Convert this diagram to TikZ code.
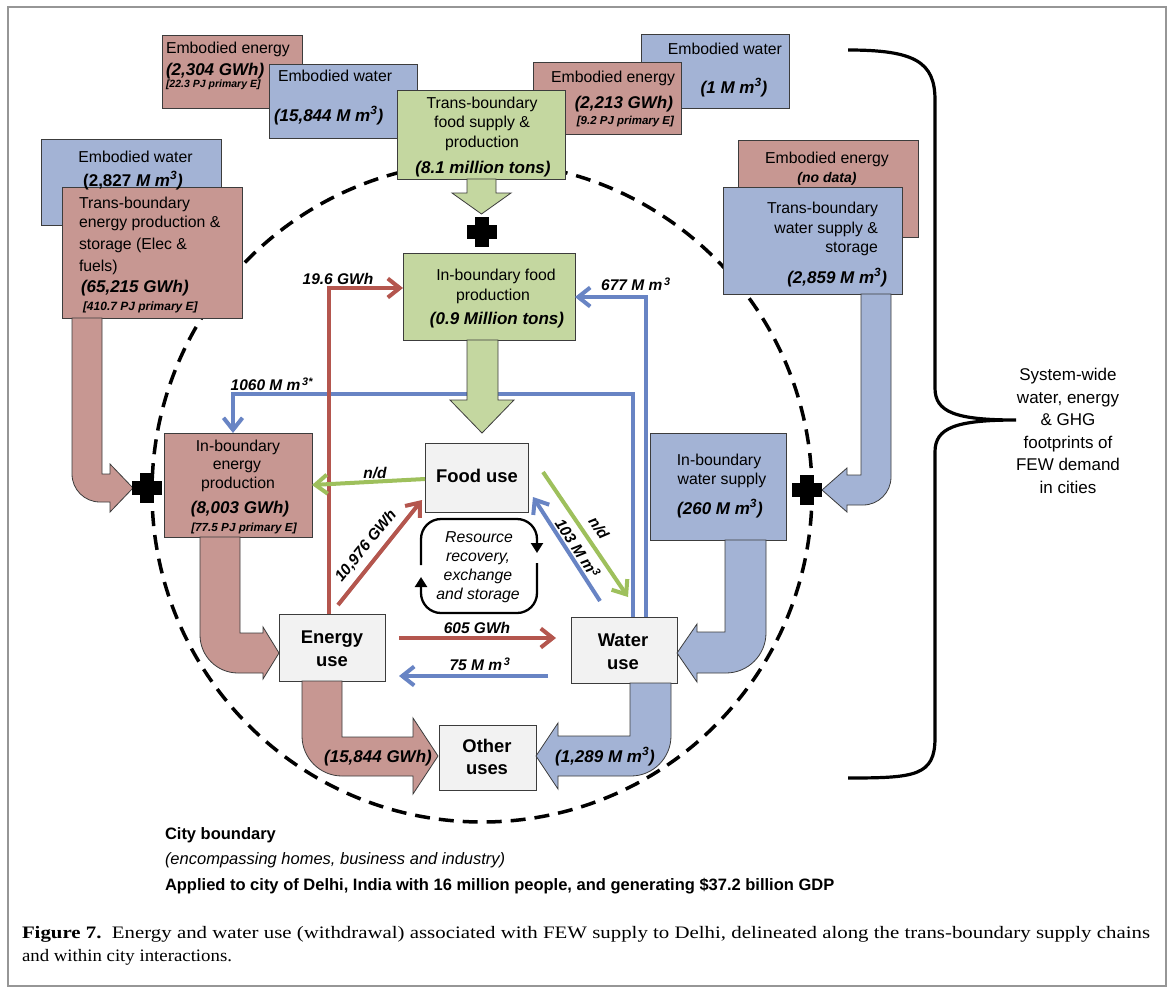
\documentclass[tikz,border=0pt]{standalone}
\usepackage{fontspec}
\setmainfont{Liberation Sans}
\newfontfamily\capfont{Liberation Serif}
\usepackage{graphicx}
\usetikzlibrary{arrows.meta}
\definecolor{boxred}{RGB}{199,151,146}
\definecolor{boxblue}{RGB}{163,179,213}
\definecolor{boxgreen}{RGB}{196,215,160}
\definecolor{boxgray}{RGB}{242,242,242}
\definecolor{edgecol}{RGB}{60,60,60}
\definecolor{lred}{RGB}{180,86,78}
\definecolor{lblue}{RGB}{104,132,196}
\definecolor{lgreen}{RGB}{158,192,92}
\definecolor{framecol}{RGB}{150,150,150}
\newcommand\ftreg{\fontsize{15.8}{19}\selectfont}
\newcommand\ftval{\fontsize{17}{20}\selectfont\bfseries\itshape}
\newcommand\ftsmall[1]{\fontsize{#1}{13}\selectfont\bfseries\itshape}
\newcommand\ftuse{\fontsize{18.4}{22}\selectfont\bfseries}
\newcommand\ftlab{\fontsize{15.5}{18}\selectfont\bfseries\itshape}
\newcommand\cub{\textsuperscript{3}}
\tikzset{
  bx/.style={draw=edgecol, line width=0.9pt, inner sep=0pt, outer sep=0pt, anchor=north west},
  rbox/.style={bx, fill=boxred},
  bbox/.style={bx, fill=boxblue},
  gbox/.style={bx, fill=boxgreen},
  ubox/.style={bx, fill=boxgray},
  txt/.style={inner sep=0pt, outer sep=0pt},
  flow/.style={line width=4pt, -{Straight Barb[length=12pt,width=19pt]}},
  bigarrow/.style={draw=edgecol, line width=0.8pt},
  loopline/.style={line width=2.3pt, rounded corners=20pt, -{Triangle[length=10pt,width=12pt]}},
  bound/.style={line width=3.5pt, dash pattern=on 15pt off 9pt},
}
\newcommand\plusmark[2]{\fill ({#1-15},{#2-7}) rectangle ({#1+15},{#2+7}); \fill ({#1-7},{#2-15}) rectangle ({#1+7},{#2+15});}
\begin{document}
\begin{tikzpicture}[x=1pt,y=-1pt]
\useasboundingbox (0,0) rectangle (1171,989);
\fill[white] (0,0) rectangle (1171,989);
\draw[framecol, line width=1.5pt] (8,7) rectangle (1166,986);

% city boundary
\draw[bound] (482,492) circle [radius=330pt];

% boxes
\node[rbox, minimum width=140pt, minimum height=73pt] (eeL) at (162,35) {};
\node[bbox, minimum width=148pt, minimum height=74pt] (ewL) at (269,64) {};
\node[bbox, minimum width=148pt, minimum height=74pt] (ewR) at (641,34) {};
\node[rbox, minimum width=148pt, minimum height=72pt] (eeR) at (533,62) {};
\node[gbox, minimum width=168pt, minimum height=89pt] (tbf) at (397,90) {};
\node[bbox, minimum width=180pt, minimum height=86pt] (ew2) at (41,139) {};
\node[rbox, minimum width=180pt, minimum height=131pt] (tbe) at (62,187) {};
\node[rbox, minimum width=180pt, minimum height=97pt] (ee2) at (738,140) {};
\node[bbox, minimum width=179pt, minimum height=107pt] (tbw) at (723,187) {};
\node[gbox, minimum width=172pt, minimum height=87pt] (ibf) at (403,253) {};
\node[rbox, minimum width=148pt, minimum height=104pt] (ibe) at (164,433) {};
\node[ubox, minimum width=103pt, minimum height=69pt] (fu) at (425,443) {};
\node[ubox, minimum width=106pt, minimum height=67pt] (eu) at (279,614) {};
\node[ubox, minimum width=106pt, minimum height=66pt] (wu) at (571,617) {};
\node[ubox, minimum width=97pt, minimum height=65pt] (ou) at (439,725) {};
\node[bbox, minimum width=136pt, minimum height=107pt] (ibw) at (650,433) {};

% thin connectors
\draw[flow, lblue] (wu.north -| 633,0) |- (233,394) -- (ibe.north -| 233,0);
\draw[flow, lblue] (wu.north -| 646,0) |- (ibf.east |- 0,297);
\draw[flow, lred] (eu.north -| 329,0) |- (ibf.west |- 0,288);
\coordinate (r1s) at (338,605);
\coordinate (r1e) at (422,500);
\draw[flow, lred] (r1s) -- (r1e);
\draw[flow, lred, shorten <=14pt, shorten >=15pt] (eu.east |- 0,638) -- (wu.west |- 0,638);
\draw[flow, lblue, shorten <=23pt, shorten >=14pt] (wu.west |- 0,676) -- (eu.east |- 0,676);
\draw[flow, lgreen] (fu.west |- 0,479) -- (ibe.east |- 0,485);
\coordinate (g1s) at (543,472);
\coordinate (g1e) at (628,597);
\draw[flow, lgreen] (g1s) -- (g1e);
\coordinate (b1s) at (600,601);
\coordinate (b1e) at (533,497);
\draw[flow, lblue] (b1s) -- (b1e);

% big arrows
\filldraw[bigarrow, fill=boxgreen] (467,179) -- (467,193) -- (452,193) -- (481.5,214) -- (511,193) -- (496,193) -- (496,179) -- cycle;
\filldraw[bigarrow, fill=boxgreen] (467,340) -- (467,400) -- (450,400) -- (482,433) -- (514,400) -- (498,400) -- (498,340) -- cycle;
\filldraw[bigarrow, fill=boxred] (102,318) -- (102,474) -- (110,474) -- (110,464) -- (133,488) -- (110,512) -- (110,502) -- (100,502) .. controls (84.5,502) and (72,489.5) .. (72,474) -- (72,318) -- cycle;
\filldraw[bigarrow, fill=boxblue] (861,294) -- (861,475) -- (847,475) -- (847,468) -- (822,490) -- (847,512) -- (847,505) -- (863,505) .. controls (878.5,505) and (891,492.5) .. (891,477) -- (891,294) -- cycle;
\filldraw[bigarrow, fill=boxred] (240,537) -- (240,633) -- (263,633) -- (263,627) -- (279,653) -- (263,679) -- (263,673) -- (238,673) .. controls (217,673) and (200,656) .. (200,635) -- (200,537) -- cycle;
\filldraw[bigarrow, fill=boxred] (342,681) -- (342,737) -- (413,737) -- (413,718) -- (438,756) -- (413,794) -- (413,776) -- (342,776) .. controls (320,776) and (302,758) .. (302,736) -- (302,681) -- cycle;
\filldraw[bigarrow, fill=boxblue] (630,683) -- (630,736) -- (558,736) -- (558,723) -- (536,756) -- (558,789) -- (558,776) -- (631,776) .. controls (653,776) and (671,758) .. (671,736) -- (671,683) -- cycle;
\filldraw[bigarrow, fill=boxblue] (725,540) -- (725,632) -- (697,632) -- (697,624) -- (677,653) -- (697,682) -- (697,673) -- (726,673) .. controls (748,673) and (766,655) .. (766,633) -- (766,540) -- cycle;

% plus signs
\plusmark{482}{232}
\plusmark{147}{488}
\plusmark{807}{490}

% resource loop
\draw[loopline] (421,565) -- (421,519) -- (537,519) -- (537,553);
\draw[loopline] (537,563) -- (537,613) -- (421,613) -- (421,577);

% box texts
\node[txt, anchor=base west, font=\ftreg] (eeLa) at (166,53.5) {Embodied energy};
\node[txt, anchor=base west, font=\ftval] (eeLb) at (166,75.6) {(2,304 GWh)};
\node[txt, anchor=base west, font=\ftsmall{10.5}] (eeLc) at (166,87.7) {[22.3 PJ primary E]};
\node[txt, anchor=base west, font=\ftreg] (ewLa) at (278,81.5) {Embodied water};
\node[txt, anchor=base west, font=\ftval] (ewLb) at (274,121) {(15,844 M m\cub)};
\node[txt, anchor=base, font=\ftreg] (tbfa) at (482,108.5) {Trans-boundary};
\node[txt, anchor=base, font=\ftreg] (tbfb) at (482,127.5) {food supply \&};
\node[txt, anchor=base, font=\ftreg] (tbfc) at (482,147.5) {production};
\node[txt, anchor=base, font=\ftval] (tbfd) at (483,173) {(8.1 million tons)};
\node[txt, anchor=base east, font=\ftreg] (eeRa) at (675,82.5) {Embodied energy};
\node[txt, anchor=base east, font=\ftval] (eeRb) at (673,108) {(2,213 GWh)};
\node[txt, anchor=base east, font=\ftsmall{11.5}] (eeRc) at (674,124) {[9.2 PJ primary E]};
\node[txt, anchor=base east, font=\ftreg] (ewRa) at (782,54.5) {Embodied water};
\node[txt, anchor=base, font=\ftval] (ewRb) at (734,93) {(1 M m\cub)};
\node[txt, anchor=base, font=\ftreg] (ew2a) at (135.5,162.5) {Embodied water};
\node[txt, anchor=base, font=\ftval] (ew2b) at (133,186) {{\upshape (2,827} M m\cub)};
\node[txt, anchor=base west, font=\ftreg] (tbea) at (79,208.6) {Trans-boundary};
\node[txt, anchor=base west, font=\ftreg] (tbeb) at (79,227.6) {energy production \&};
\node[txt, anchor=base west, font=\ftreg] (tbec) at (79,249.6) {storage (Elec \&};
\node[txt, anchor=base west, font=\ftreg] (tbed) at (79,271.6) {fuels)};
\node[txt, anchor=base west, font=\ftval] (tbee) at (81,292) {(65,215 GWh)};
\node[txt, anchor=base west, font=\ftsmall{12}] (tbef) at (83,310) {[410.7 PJ primary E]};
\node[txt, anchor=base, font=\ftreg] (ee2a) at (827,163.5) {Embodied energy};
\node[txt, anchor=base, font=\ftsmall{14}] (ee2b) at (827,182) {(no data)};
\node[txt, anchor=base east, font=\ftreg] (tbwa) at (878,213.5) {Trans-boundary};
\node[txt, anchor=base east, font=\ftreg] (tbwb) at (878,233.5) {water supply \&};
\node[txt, anchor=base east, font=\ftreg] (tbwc) at (878,252.5) {storage};
\node[txt, anchor=base east, font=\ftval] (tbwd) at (887,283) {(2,859 M m\cub)};
\node[txt, anchor=base, font=\ftreg] (ibfa) at (496,280.5) {In-boundary food};
\node[txt, anchor=base, font=\ftreg] (ibfb) at (493,300.5) {production};
\node[txt, anchor=base, font=\ftval] (ibfc) at (497,324) {(0.9 Million tons)};
\node[txt, anchor=base, font=\ftreg] (ibea) at (238,451.5) {In-boundary};
\node[txt, anchor=base, font=\ftreg] (ibeb) at (237,469.5) {energy};
\node[txt, anchor=base, font=\ftreg] (ibec) at (238,488.5) {production};
\node[txt, anchor=base, font=\ftval] (ibed) at (240,513) {(8,003 GWh)};
\node[txt, anchor=base, font=\ftsmall{11.7}] (ibee) at (244,531) {[77.5 PJ primary E]};
\node[txt, anchor=base, font=\ftuse] (fua) at (477,482.4) {Food use};
\node[txt, anchor=base, font=\ftreg\itshape] (rra) at (479,542.5) {Resource};
\node[txt, anchor=base, font=\ftreg\itshape] (rrb) at (478,561.5) {recovery,};
\node[txt, anchor=base, font=\ftreg\itshape] (rrc) at (478,580.5) {exchange};
\node[txt, anchor=base, font=\ftreg\itshape] (rrd) at (478,599.5) {and storage};
\node[txt, anchor=base, font=\ftuse] (eua) at (332,643.4) {Energy};
\node[txt, anchor=base, font=\ftuse] (eub) at (332,666.4) {use};
\node[txt, anchor=base, font=\ftuse] (wua) at (623,646.4) {Water};
\node[txt, anchor=base, font=\ftuse] (wub) at (623,669.4) {use};
\node[txt, anchor=base, font=\ftuse] (oua) at (487,752.4) {Other};
\node[txt, anchor=base, font=\ftuse] (oub) at (487,774.4) {uses};
\node[txt, anchor=base, font=\ftreg] (ibwa) at (719,465.5) {In-boundary};
\node[txt, anchor=base, font=\ftreg] (ibwb) at (722,484.5) {water supply};
\node[txt, anchor=base, font=\ftval] (ibwc) at (720,514) {(260 M m\cub)};
\node[txt, anchor=base, font=\ftval] (outE) at (378,762) {(15,844 GWh)};
\node[txt, anchor=base, font=\ftval] (outW) at (605,762) {(1,289 M m\cub)};

% connector labels
\node[txt, anchor=base, font=\ftlab] (l196) at (338,284.4) {19.6 GWh};
\node[txt, anchor=base, font=\ftlab] (l677) at (636,290.4) {677 M m\textsuperscript{\,3}};
\node[txt, anchor=base east, font=\ftlab] (l1060) at (313,390.4) {1060 M m\textsuperscript{\,3*}};
\node[txt, anchor=base, font=\ftlab] (l605) at (477,633.4) {605 GWh};
\node[txt, anchor=base, font=\ftlab] (l75) at (480,670.4) {75 M m\textsuperscript{\,3}};
\node[txt, anchor=base, font=\ftlab] (lnd1) at (375,478.4) {n/d};
\node[txt, rotate=51, font=\ftlab] (l10976) at (366,546) {10,976 GWh};
\node[txt, rotate=-56, font=\ftlab] (lnd2) at (599,528) {n/d};
\node[txt, rotate=-57, font=\ftlab] (l103) at (578,548) {103 M m\cub};

% brace and side text
\draw[line width=3.2pt] (848,50) .. controls (915,50) and (935,62) .. (935,100) -- (935,388) .. controls (935,412) and (955,420) .. (1016,420) .. controls (955,420) and (935,428) .. (935,452) -- (935,738) .. controls (935,776) and (915,778) .. (848,778);
\node[txt, align=center, font=\fontsize{17}{22.5}\selectfont] (side) at (1068,431) {System-wide\\water, energy\\\& GHG\\footprints of\\FEW demand\\in cities};

% bottom text
\node[txt, anchor=base west, font=\fontsize{16.5}{20}\selectfont\bfseries] (cb) at (165,839) {City boundary};
\node[txt, anchor=base west, font=\fontsize{16.5}{20}\selectfont\itshape] (cbi) at (165,864) {(encompassing homes, business and industry)};
\node[txt, anchor=base west, font=\fontsize{16.5}{20}\selectfont\bfseries] (appl) at (165,890) {Applied to city of Delhi, India with 16 million people, and generating \$37.2 billion GDP};

% caption
\node[txt, anchor=base west] (cap1) at (22,938) {\resizebox{1128pt}{\height}{\capfont\fontsize{17.5}{21}\selectfont\textbf{Figure 7.}\ \ Energy and water use (withdrawal) associated with FEW supply to Delhi, delineated along the trans-boundary supply chains}};
\node[txt, anchor=base west] (cap2) at (22,961) {\resizebox{210pt}{\height}{\capfont\fontsize{17.5}{21}\selectfont and within city interactions.}};
\end{tikzpicture}
\end{document}
